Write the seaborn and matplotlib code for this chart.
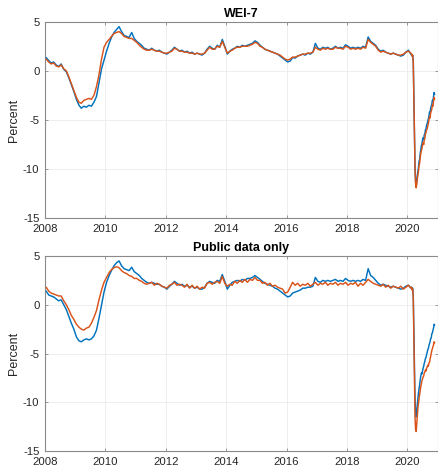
import pandas as pd
import matplotlib
matplotlib.use("Agg")
import matplotlib.pyplot as plt
import seaborn as sns

# ---- time axis: monthly through Feb 2020, weekly for the rest of 2020 ----
monthly_dates = pd.date_range("2008-01-01", "2020-02-01", freq="MS") + pd.Timedelta(days=14)
weekly_dates = pd.date_range("2020-02-22", "2020-11-28", freq="7D")

# ---- WEI-7 panel ----
wei7_blue_monthly = [
    1.35, 1.05, 0.8, 0.9, 0.6, 0.45, 0.7, 0.15, -0.1, -0.7, -1.4, -2.1,
    -2.9, -3.5, -3.8, -3.6, -3.7, -3.5, -3.6, -3.2, -2.6, -1.2, 0.2, 1.1,
    2.0, 2.8, 3.4, 3.9, 4.2, 4.5, 4.0, 3.6, 3.5, 3.4, 3.9, 3.3,
    3.0, 2.8, 2.6, 2.3, 2.2, 2.1, 2.3, 2.1, 2.0, 2.1, 1.9, 1.8,
    1.7, 1.9, 2.1, 2.4, 2.2, 2.0, 2.1, 1.9, 2.0, 1.8, 1.9, 1.7,
    1.8, 1.7, 1.6, 1.8, 2.2, 2.5, 2.3, 2.2, 2.6, 2.4, 3.2, 2.5,
    1.7, 2.0, 2.2, 2.3, 2.5, 2.4, 2.6, 2.5, 2.6, 2.7, 2.8, 3.05,
    2.9, 2.6, 2.4, 2.2, 2.1, 2.0, 1.9, 1.8, 1.7, 1.5, 1.3, 1.1,
    0.9, 1.0, 1.35, 1.3, 1.5, 1.6, 1.7, 1.6, 1.8, 1.7, 1.9, 2.8,
    2.3, 2.2, 2.4, 2.3, 2.4, 2.2, 2.3, 2.5, 2.3, 2.4, 2.3, 2.65,
    2.5, 2.3, 2.4, 2.3, 2.4, 2.3, 2.5, 2.4, 3.45, 3.0, 2.8, 2.6,
    2.2, 2.0, 2.1, 1.9, 1.8, 1.7, 1.8, 1.7, 1.6, 1.5, 1.6, 1.9,
    2.1, 1.7,
]
wei7_blue_2020 = [
    1.6, 1.5, 1.6, 1.0, -2.5, -6.5, -9.8, -11.3, -11.7, -11.2,
    -10.6, -10.2, -9.8, -9.2, -9.0, -8.4, -8.0, -7.6, -7.4, -7.0,
    -6.8, -7.0, -6.5, -6.4, -6.0, -5.9, -5.5, -5.4, -5.1, -4.9,
    -4.6, -4.2, -4.3, -3.8, -3.6, -3.4, -3.0, -3.1, -2.6, -2.2, -2.4,
]
wei7_orange_monthly = [
    1.2, 0.9, 0.7, 0.8, 0.5, 0.4, 0.6, 0.2, 0.0, -0.6, -1.3, -2.0,
    -2.7, -3.2, -3.3, -3.0, -2.9, -2.8, -2.9, -2.5, -1.6, -0.4, 1.2, 2.4,
    2.9, 3.2, 3.5, 3.8, 3.9, 4.0, 3.8, 3.5, 3.4, 3.3, 3.3, 3.1,
    2.9, 2.6, 2.4, 2.2, 2.1, 2.1, 2.2, 2.1, 2.0, 2.0, 1.9, 1.8,
    1.8, 1.9, 2.0, 2.3, 2.2, 2.0, 2.0, 1.9, 1.9, 1.8, 1.8, 1.7,
    1.8, 1.7, 1.7, 1.8, 2.1, 2.4, 2.2, 2.2, 2.5, 2.4, 3.0, 2.4,
    1.8, 2.0, 2.1, 2.3, 2.4, 2.4, 2.5, 2.5, 2.5, 2.6, 2.7, 2.9,
    2.8, 2.5, 2.4, 2.2, 2.1, 2.0, 1.9, 1.8, 1.7, 1.6, 1.4, 1.2,
    1.1, 1.2, 1.4, 1.4, 1.5, 1.6, 1.7, 1.7, 1.8, 1.8, 1.9, 2.4,
    2.2, 2.1, 2.3, 2.2, 2.3, 2.2, 2.2, 2.4, 2.3, 2.3, 2.2, 2.5,
    2.4, 2.2, 2.3, 2.2, 2.3, 2.2, 2.4, 2.3, 3.2, 2.9, 2.7, 2.5,
    2.1, 1.9, 2.0, 1.9, 1.8, 1.7, 1.8, 1.7, 1.6, 1.6, 1.7, 1.9,
    2.0, 1.8,
]
wei7_orange_2020 = [
    1.7, 1.5, 1.6, 0.8, -2.8, -6.8, -10.0, -11.5, -11.9, -11.5,
    -11.0, -10.6, -10.2, -9.6, -9.4, -8.8, -8.4, -8.1, -7.9, -7.5,
    -7.3, -7.5, -7.0, -6.9, -6.4, -6.3, -6.0, -5.9, -5.6, -5.4,
    -5.0, -4.7, -4.8, -4.3, -4.1, -3.9, -3.5, -3.6, -3.1, -2.7, -2.9,
]

# ---- Public-data-only panel ----
public_blue_monthly = [
    1.4, 1.0, 0.9, 0.8, 0.6, 0.4, 0.5, 0.0, -0.5, -1.2, -1.9, -2.5,
    -3.3, -3.7, -3.8, -3.6, -3.5, -3.6, -3.5, -3.2, -2.6, -1.4, 0.0, 1.3,
    2.3, 3.0, 3.5, 4.0, 4.3, 4.5, 4.0, 3.7, 3.6, 3.5, 3.85, 3.4,
    3.2, 3.0, 2.7, 2.5, 2.3, 2.2, 2.3, 2.2, 2.1, 2.1, 1.9, 1.8,
    1.6, 1.9, 2.1, 2.4, 2.2, 2.0, 2.1, 1.9, 2.0, 1.8, 1.9, 1.7,
    1.8, 1.6, 1.6, 1.8, 2.2, 2.4, 2.3, 2.2, 2.5, 2.4, 3.1, 2.4,
    1.6, 2.0, 2.3, 2.4, 2.5, 2.4, 2.6, 2.5, 2.7, 2.7, 2.8, 3.0,
    2.8, 2.6, 2.4, 2.2, 2.1, 2.0, 1.9, 1.7, 1.6, 1.4, 1.2, 1.0,
    0.8, 0.9, 1.2, 1.3, 1.4, 1.5, 1.7, 1.7, 1.8, 1.8, 1.9, 2.8,
    2.4, 2.3, 2.5, 2.4, 2.5, 2.4, 2.5, 2.6, 2.4, 2.5, 2.4, 2.7,
    2.5, 2.4, 2.5, 2.4, 2.5, 2.4, 2.6, 2.5, 3.7, 3.0, 2.8, 2.5,
    2.2, 2.0, 2.1, 2.0, 1.9, 1.8, 1.9, 1.8, 1.7, 1.6, 1.7, 1.9,
    2.0, 1.7,
]
public_blue_2020 = [
    1.8, 1.6, 1.7, 0.9, -2.5, -6.4, -9.6, -11.2, -11.5, -10.8,
    -10.2, -9.6, -9.0, -8.6, -8.2, -7.7, -7.3, -7.0, -7.1, -6.8,
    -6.5, -6.3, -6.0, -5.8, -5.5, -5.4, -5.1, -4.9, -4.6, -4.5,
    -4.2, -4.0, -3.8, -3.5, -3.4, -3.0, -2.9, -2.6, -2.4, -2.0, -2.1,
]
public_orange_monthly = [
    1.8, 1.4, 1.2, 1.1, 1.0, 0.9, 0.9, 0.4, 0.0, -0.5, -1.1, -1.5,
    -2.0, -2.3, -2.5, -2.6, -2.4, -2.3, -1.9, -1.3, -0.6, 0.5, 1.5, 2.3,
    2.8, 3.3, 3.6, 3.8, 3.9, 3.8, 3.5, 3.3, 3.2, 3.0, 2.9, 2.7,
    2.7, 2.5, 2.4, 2.2, 2.1, 2.2, 2.3, 2.0, 2.2, 2.1, 1.9, 1.8,
    1.7, 2.0, 2.1, 2.3, 2.0, 2.1, 2.0, 1.8, 2.1, 1.7, 2.0, 1.7,
    1.9, 1.6, 1.8, 1.7, 2.2, 2.3, 2.1, 2.3, 2.4, 2.2, 2.9, 2.2,
    1.9, 2.1, 2.0, 2.4, 2.2, 2.5, 2.3, 2.6, 2.3, 2.6, 2.5, 2.8,
    2.5, 2.5, 2.2, 2.3, 2.0, 2.2, 1.9, 2.0, 1.8, 1.7, 1.6, 1.2,
    1.3, 1.8, 2.3, 2.0, 2.2, 1.9, 2.1, 2.0, 2.2, 1.9, 2.1, 2.3,
    2.0, 2.2, 2.1, 2.3, 2.0, 2.2, 2.1, 2.3, 2.0, 2.2, 2.1, 2.3,
    2.0, 2.2, 2.1, 2.3, 1.9, 2.2, 2.0, 2.3, 2.6, 2.4, 2.2, 2.1,
    2.0, 1.9, 2.1, 1.8, 2.0, 1.7, 1.9, 1.8, 1.7, 1.9, 1.6, 1.8,
    2.0, 1.7,
]
public_orange_2020 = [
    1.8, 1.5, 1.6, 0.6, -3.5, -8.0, -11.5, -12.8, -13.0, -12.2,
    -11.3, -10.6, -10.1, -9.6, -9.2, -8.8, -8.4, -8.1, -7.8, -7.6,
    -7.4, -7.3, -7.0, -6.9, -6.7, -6.8, -6.5, -6.4, -6.2, -6.3,
    -6.0, -5.9, -5.6, -5.3, -5.0, -4.7, -4.5, -4.3, -4.1, -3.8, -3.9,
]

panel_titles = ["WEI-7", "Public data only"]
y_ticks = [-15, -10, -5, 0, 5]
x_tick_years = [2008, 2010, 2012, 2014, 2016, 2018, 2020]

BLUE = "#0072BD"
ORANGE = "#D95319"

sns.set_theme(style="white")
plt.rcParams["font.family"] = ["Liberation Sans", "DejaVu Sans"]
plt.rcParams["axes.unicode_minus"] = False

dates = monthly_dates.append(weekly_dates)


def long_frame(blue_m, blue_w, orange_m, orange_w):
    return pd.concat([
        pd.DataFrame({"date": dates, "value": blue_m + blue_w, "series": "a"}),
        pd.DataFrame({"date": dates, "value": orange_m + orange_w, "series": "b"}),
    ], ignore_index=True)


frames = [
    long_frame(wei7_blue_monthly, wei7_blue_2020, wei7_orange_monthly, wei7_orange_2020),
    long_frame(public_blue_monthly, public_blue_2020, public_orange_monthly, public_orange_2020),
]

fig = plt.figure(figsize=(4.38, 4.67), dpi=100)
W, H = 438, 467
boxes = [(45, 21.7, 437.5, 218.3), (45, 256, 437.5, 451)]

for df, title, (x0, y0, x1, y1) in zip(frames, panel_titles, boxes):
    ax = fig.add_axes([x0 / W, 1 - y1 / H, (x1 - x0) / W, (y1 - y0) / H])
    sns.lineplot(data=df, x="date", y="value", hue="series",
                 palette=[BLUE, ORANGE], legend=False, linewidth=1.05,
                 ax=ax, zorder=3)
    ax.set_xlim(pd.Timestamp("2008-01-01"), pd.Timestamp("2021-01-01"))
    ax.set_ylim(-15, 5)
    ax.set_xticks([pd.Timestamp(f"{y}-01-01") for y in x_tick_years])
    ax.set_xticklabels([str(y) for y in x_tick_years])
    ax.set_yticks(y_ticks)
    ax.set_yticklabels([str(v) for v in y_ticks])
    ax.grid(True, color="#ebebeb", linewidth=0.6, zorder=0)
    ax.set_axisbelow(True)
    for s in ax.spines.values():
        s.set_color("#8a8a8a")
        s.set_linewidth(0.8)
    ax.tick_params(axis="both", direction="in", length=2.5, width=0.6,
                   color="#8a8a8a", labelsize=8.2, labelcolor="#262626",
                   pad=4, top=True, right=True, bottom=True, left=True)
    ax.set_xlabel("")
    ax.set_ylabel("Percent", fontsize=9, color="#262626", labelpad=2)
    ax.set_title(title, fontsize=9, fontweight="bold", color="black", pad=3.5)

fig.savefig("out.png", dpi=100)
